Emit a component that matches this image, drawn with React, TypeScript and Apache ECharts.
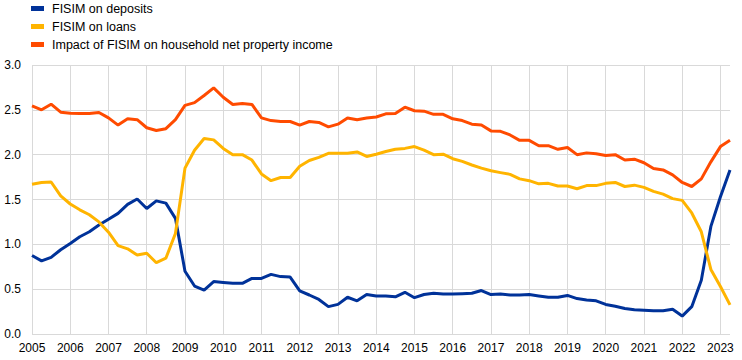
import React, { useEffect, useRef } from "react";
import * as echarts from "echarts";

const years = [2005, 2006, 2007, 2008, 2009, 2010, 2011, 2012, 2013, 2014, 2015, 2016, 2017, 2018, 2019, 2020, 2021, 2022, 2023];
const quarters = ["Q1", "Q2", "Q3", "Q4"];
const categories: string[] = [];
years.forEach((y) => quarters.forEach((q) => categories.push(`${y}${q}`)));
const periods = categories.slice(0, 74); // 2005Q1 - 2023Q2

const deposits = [
  0.875, 0.815, 0.855, 0.94,
  1.01, 1.085, 1.14, 1.215,
  1.28, 1.345, 1.445, 1.505,
  1.40, 1.485, 1.46, 1.29,
  0.70, 0.535, 0.49, 0.585,
  0.575, 0.565, 0.565, 0.62,
  0.62, 0.665, 0.64, 0.635,
  0.48, 0.435, 0.385, 0.305,
  0.33, 0.41, 0.37, 0.44,
  0.425, 0.425, 0.415, 0.465,
  0.405, 0.44, 0.455, 0.445,
  0.445, 0.45, 0.455, 0.485,
  0.44, 0.445, 0.435, 0.435,
  0.44, 0.425, 0.41, 0.41,
  0.43, 0.395, 0.38, 0.37,
  0.33, 0.31, 0.285, 0.27,
  0.265, 0.26, 0.26, 0.275,
  0.20, 0.305, 0.60, 1.20,
  1.53, 1.83,
];

const loans = [
  1.67, 1.69, 1.695, 1.54,
  1.45, 1.385, 1.33, 1.25,
  1.135, 0.985, 0.95, 0.88,
  0.90, 0.795, 0.845, 1.12,
  1.85, 2.05, 2.18, 2.165,
  2.07, 2.00, 2.00, 1.94,
  1.785, 1.71, 1.745, 1.745,
  1.87, 1.935, 1.97, 2.015,
  2.015, 2.015, 2.03, 1.98,
  2.005, 2.035, 2.06, 2.07,
  2.09, 2.05, 2.00, 2.005,
  1.955, 1.925, 1.885, 1.85,
  1.82, 1.80, 1.78, 1.73,
  1.71, 1.675, 1.68, 1.65,
  1.65, 1.62, 1.655, 1.655,
  1.68, 1.69, 1.645, 1.66,
  1.635, 1.59, 1.56, 1.51,
  1.49, 1.35, 1.14, 0.72,
  0.53, 0.325,
];

const impact = [
  2.545, 2.50, 2.563, 2.474,
  2.463, 2.46, 2.46, 2.47,
  2.41, 2.33, 2.40, 2.39,
  2.30, 2.27, 2.29, 2.39,
  2.55, 2.58, 2.66, 2.745,
  2.64, 2.56, 2.57, 2.56,
  2.41, 2.38, 2.37, 2.37,
  2.33, 2.37, 2.36, 2.31,
  2.34, 2.41, 2.39, 2.41,
  2.42, 2.455, 2.46, 2.53,
  2.49, 2.485, 2.45, 2.45,
  2.40, 2.38, 2.34, 2.33,
  2.265, 2.26, 2.22, 2.16,
  2.16, 2.10, 2.10, 2.06,
  2.08, 2.00, 2.02, 2.01,
  1.99, 2.00, 1.94, 1.95,
  1.91, 1.845, 1.83, 1.775,
  1.69, 1.645, 1.73, 1.92,
  2.09, 2.16,
];

const seriesNames = ["FISIM on deposits", "FISIM on loans", "Impact of FISIM on household net property income"];
const seriesColors = ["#003299", "#ffb400", "#ff4b00"];
const yTicks = { min: 0, max: 3, interval: 0.5 };

export default function App() {
  const ref = useRef<HTMLDivElement>(null);
  useEffect(() => {
    document.body.style.margin = "0";
    if (!ref.current) return;
    const chart = echarts.init(ref.current, undefined, { renderer: "svg" });
    const font = "'Liberation Sans', Arial, sans-serif";
    const dataSets = [deposits, loans, impact];
    chart.setOption({
      animation: false,
      textStyle: { fontFamily: font },
      legend: {
        orient: "vertical",
        left: 31,
        top: 2,
        padding: 0,
        itemWidth: 13,
        itemHeight: 5,
        itemGap: 5,
        icon: "rect",
        textStyle: { fontSize: 12.5, lineHeight: 12, color: "#000", fontFamily: font, padding: [0, 0, 0, 3] },
        data: seriesNames,
      },
      grid: { left: 32, right: 12, top: 65, bottom: 26, containLabel: false },
      xAxis: {
        type: "category",
        data: periods,
        boundaryGap: false,
        axisLine: { show: false },
        axisTick: { show: false },
        axisLabel: {
          interval: 3,
          margin: 8,
          fontSize: 12,
          color: "#000",
          fontFamily: font,
          formatter: (v: string) => v.slice(0, 4),
        },
        splitLine: { show: true, interval: 3, lineStyle: { color: "#d9d9d9", width: 1 } },
      },
      yAxis: {
        type: "value",
        min: yTicks.min,
        max: yTicks.max,
        interval: yTicks.interval,
        axisLine: { show: false },
        axisTick: { show: false },
        axisLabel: {
          margin: 11,
          fontSize: 12,
          color: "#000",
          fontFamily: font,
          formatter: (v: number) => v.toFixed(1),
        },
        splitLine: { show: true, lineStyle: { color: "#d9d9d9", width: 1 } },
      },
      series: seriesNames.map((name, i) => ({
        name,
        type: "line",
        data: dataSets[i],
        showSymbol: false,
        symbol: "none",
        color: seriesColors[i],
        lineStyle: { width: 3, color: seriesColors[i] },
        z: 2 + i,
      })),
    });
    return () => chart.dispose();
  }, []);
  return <div ref={ref} style={{ width: 742, height: 360 }} />;
}
